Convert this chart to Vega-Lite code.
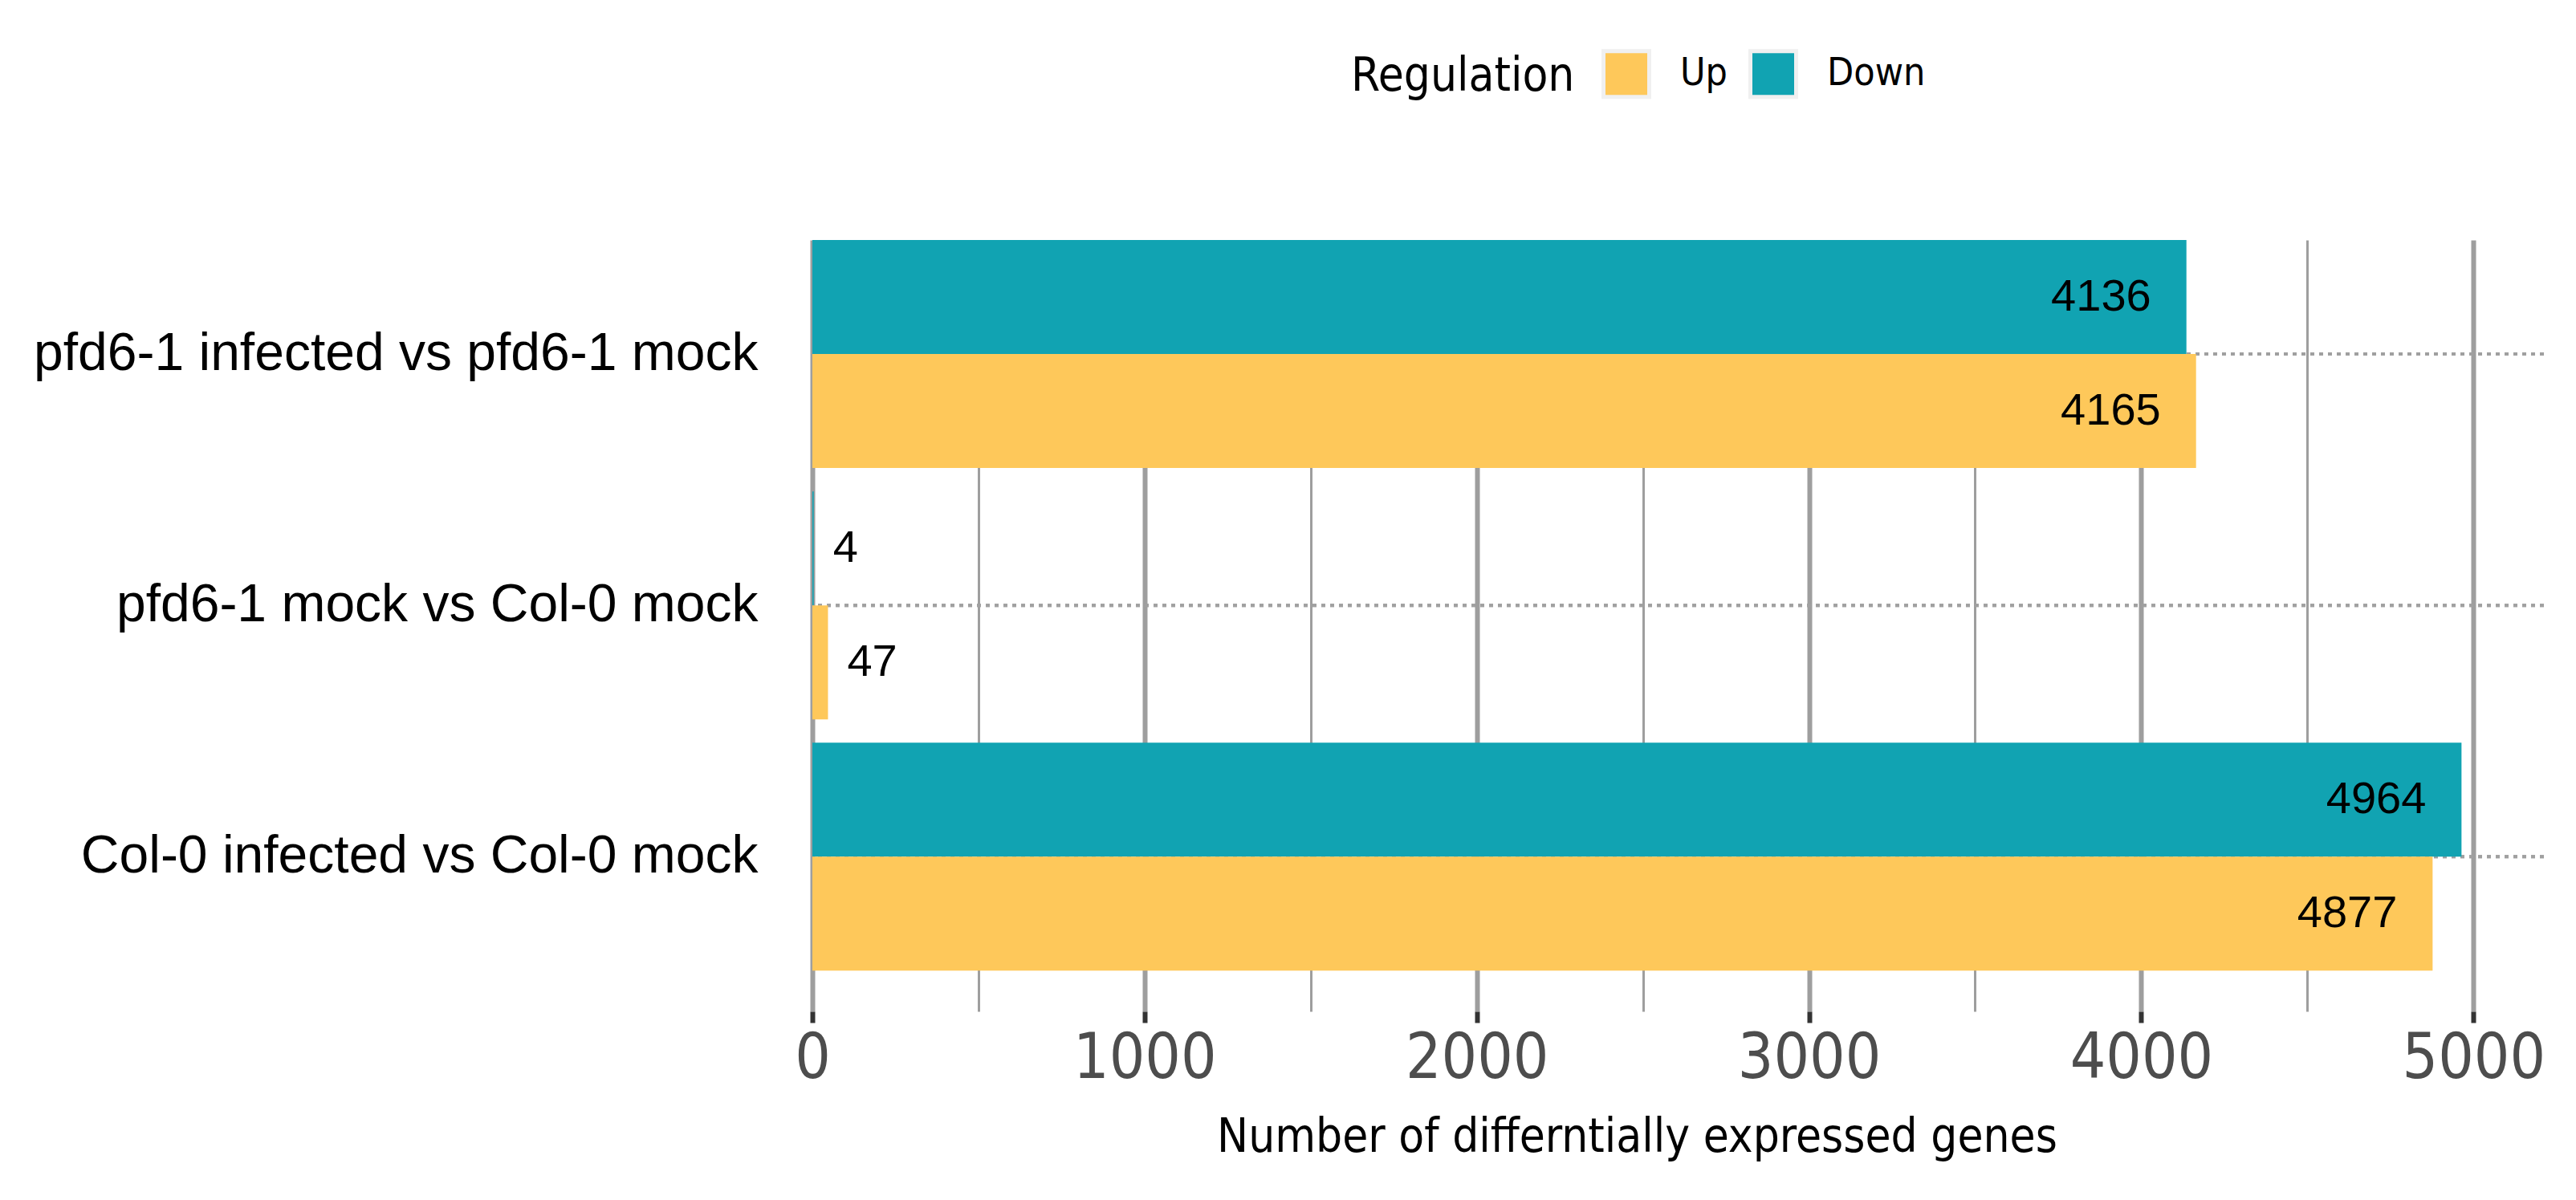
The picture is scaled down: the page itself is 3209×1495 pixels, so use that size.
{
  "$schema": "https://vega.github.io/schema/vega-lite/v6.json",
  "autosize": {"type": "none"},
  "padding": {"left": 1012, "top": 299, "right": 40, "bottom": 235},
  "width": 2157,
  "height": 961,
  "background": "white",
  "config": {
    "view": {"stroke": null},
    "font": "Liberation Sans"
  },
  "data": {
    "values": [
      {"comparison": "pfd6-1 infected vs pfd6-1 mock", "regulation": "Down", "genes": 4136},
      {"comparison": "pfd6-1 infected vs pfd6-1 mock", "regulation": "Up", "genes": 4165},
      {"comparison": "pfd6-1 mock vs Col-0 mock", "regulation": "Down", "genes": 4},
      {"comparison": "pfd6-1 mock vs Col-0 mock", "regulation": "Up", "genes": 47},
      {"comparison": "Col-0 infected vs Col-0 mock", "regulation": "Down", "genes": 4964},
      {"comparison": "Col-0 infected vs Col-0 mock", "regulation": "Up", "genes": 4877}
    ]
  },
  "encoding": {
    "y": {
      "field": "comparison",
      "type": "nominal",
      "sort": ["pfd6-1 infected vs pfd6-1 mock", "pfd6-1 mock vs Col-0 mock", "Col-0 infected vs Col-0 mock"],
      "scale": {"paddingInner": 0.093, "paddingOuter": 0.081, "align": 0},
      "axis": {
        "title": null,
        "domain": false,
        "ticks": false,
        "grid": false,
        "labelFont": "Liberation Sans",
        "labelFontSize": 66,
        "labelColor": "black",
        "labelPadding": 68,
        "labelLimit": 1200
      }
    }
  },
  "layer": [
    {
      "mark": {"type": "rule", "strokeDash": [5, 6], "strokeWidth": 4, "color": "#a0a0a0"},
      "encoding": {}
    },
    {
      "mark": {"type": "bar"},
      "encoding": {
        "x": {
          "field": "genes",
          "type": "quantitative",
          "scale": {"domain": [0, 5212], "nice": false},
          "axis": {
            "title": "Number of differntially expressed genes",
            "titleFont": "DejaVu Sans Condensed, DejaVu Sans",
            "titleFontSize": 58,
            "titleFontWeight": "normal",
            "titleColor": "black",
            "titlePadding": 30,
            "titleX": 1027,
            "values": [0, 500, 1000, 1500, 2000, 2500, 3000, 3500, 4000, 4500, 5000],
            "format": "d",
            "labelExpr": "datum.value % 1000 === 0 ? datum.label : ''",
            "labelFont": "DejaVu Sans Condensed, DejaVu Sans",
            "labelFontSize": 78,
            "labelColor": "#4d4d4d",
            "labelPadding": 6,
            "labelFlush": false,
            "labelOverlap": false,
            "domain": false,
            "grid": true,
            "gridColor": "#9e9e9e",
            "gridOpacity": 1,
            "gridWidth": {"condition": {"test": "datum.value % 1000 === 0", "value": 6}, "value": 3},
            "ticks": true,
            "tickSize": 14,
            "tickWidth": 6,
            "tickColor": {"condition": {"test": "datum.value % 1000 === 0", "value": "#333333"}, "value": "transparent"}
          }
        },
        "yOffset": {
          "field": "regulation",
          "sort": ["Down", "Up"],
          "scale": {"paddingInner": 0, "paddingOuter": 0}
        },
        "color": {
          "field": "regulation",
          "type": "nominal",
          "scale": {"domain": ["Up", "Down"], "range": ["#fec85a", "#11a3b2"]},
          "legend": {
            "title": "Regulation",
            "orient": "none",
            "legendX": 671,
            "legendY": -238,
            "direction": "horizontal",
            "titleOrient": "left",
            "titleFont": "DejaVu Sans Condensed, DejaVu Sans",
            "titleFontSize": 58,
            "titleFontWeight": "normal",
            "titleColor": "black",
            "titleLimit": 600,
            "titlePadding": 33,
            "labelFont": "DejaVu Sans Condensed, DejaVu Sans",
            "labelFontSize": 48,
            "labelColor": "black",
            "labelOffset": 36,
            "columnPadding": 17,
            "symbolType": "square",
            "symbolSize": 3249,
            "symbolStrokeColor": "#f0f0f0",
            "symbolStrokeWidth": 5,
            "symbolOpacity": 1
          }
        }
      }
    },
    {
      "transform": [{"filter": "datum.genes >= 500"}],
      "mark": {"type": "text", "align": "right", "baseline": "middle", "dx": -44, "font": "Liberation Sans", "fontSize": 56, "color": "black"},
      "encoding": {
        "x": {"field": "genes", "type": "quantitative"},
        "yOffset": {"field": "regulation", "sort": ["Down", "Up"]},
        "text": {"field": "genes", "type": "quantitative", "format": "d"}
      }
    },
    {
      "transform": [{"filter": "datum.genes < 500"}],
      "mark": {"type": "text", "align": "left", "baseline": "middle", "dx": 24, "font": "Liberation Sans", "fontSize": 56, "color": "black"},
      "encoding": {
        "x": {"field": "genes", "type": "quantitative"},
        "yOffset": {"field": "regulation", "sort": ["Down", "Up"]},
        "text": {"field": "genes", "type": "quantitative", "format": "d"}
      }
    }
  ]
}
